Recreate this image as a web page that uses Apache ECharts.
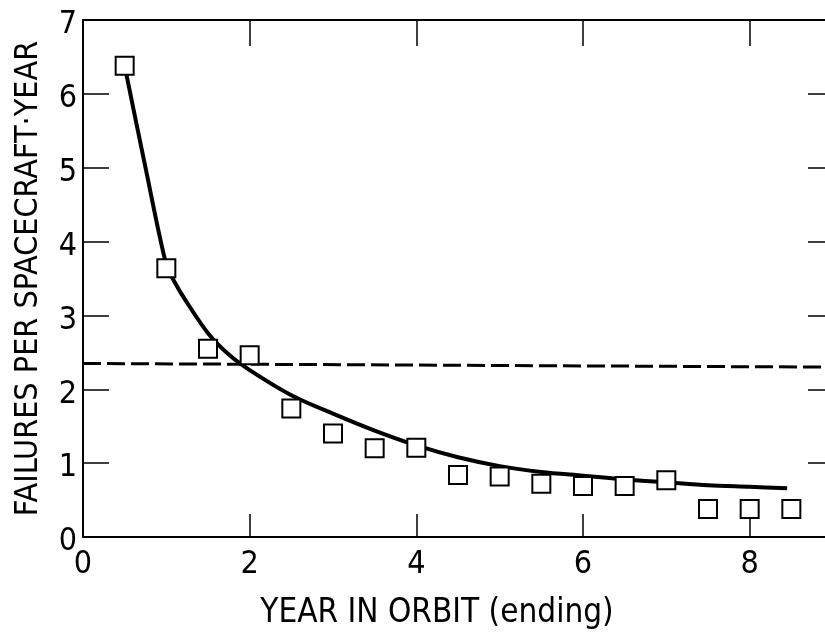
<!DOCTYPE html>
<html>
<head>
<meta charset="utf-8">
<script src="https://cdn.jsdelivr.net/npm/echarts@6/dist/echarts.min.js"></script>
<style>
html,body{margin:0;padding:0;background:#fff;}
#c{width:825px;height:637px;}
</style>
</head>
<body>
<div id="c"></div>
<script>
var yearsObserved = [0.5, 1.0, 1.5, 2.0, 2.5, 3.0, 3.5, 4.0, 4.5, 5.0, 5.5, 6.0, 6.5, 7.0, 7.5, 8.0, 8.5];
var failuresObserved = [6.38, 3.64, 2.55, 2.46, 1.74, 1.40, 1.20, 1.21, 0.84, 0.82, 0.72, 0.69, 0.69, 0.77, 0.38, 0.38, 0.38];

var fitYears = [0.5, 0.75, 1.0, 1.1, 1.25, 1.5, 1.75, 2.0, 2.5, 3.0, 3.5, 4.0, 4.5, 5.0, 5.5, 6.0, 6.5, 7.0, 7.5, 8.0, 8.45];
var fitFailures = [6.38, 5.0, 3.68, 3.45, 3.17, 2.76, 2.47, 2.26, 1.92, 1.67, 1.44, 1.24, 1.08, 0.96, 0.88, 0.83, 0.78, 0.74, 0.70, 0.68, 0.66];

var refYears = [0, 9];
var refFailures = [2.35, 2.30];

var xTicks = [0, 2, 4, 6, 8];
var yTicks = [0, 1, 2, 3, 4, 5, 6, 7];

function pairs(xs, ys) { return xs.map(function (x, i) { return [x, ys[i]]; }); }

// pick a condensed face if one is installed
function pickFont() {
  var c = document.createElement('canvas').getContext('2d');
  var s = 'FAILURES PER SPACECRAFT 0123456789';
  c.font = '40px monospace'; var mono = c.measureText(s).width;
  var cands = ['Liberation Sans Narrow', 'DejaVu Sans Condensed', 'Roboto Condensed', 'Open Sans Condensed', 'Noto Sans Condensed'];
  for (var i = 0; i < cands.length; i++) {
    c.font = '40px "' + cands[i] + '", monospace';
    if (Math.abs(c.measureText(s).width - mono) > 1) return {family: '"' + cands[i] + '", sans-serif', style: 'normal'};
  }
  c.font = '40px "DejaVu Sans"'; var w1 = c.measureText(s).width;
  c.font = 'condensed 40px "DejaVu Sans"'; var w2 = c.measureText(s).width;
  if (w2 < w1 - 1) return {family: '"DejaVu Sans", sans-serif', style: 'condensed'};
  return {family: '"DejaVu Sans", sans-serif', style: 'normal'};
}
var F = pickFont();
var BLACK = '#000';
function ts(size) { return {fontFamily: F.family, fontStyle: F.style, fontSize: size, color: BLACK}; }

var chart = echarts.init(document.getElementById('c'), null, {renderer: 'canvas'});
chart.setOption({
  animation: false,
  backgroundColor: '#fff',
  grid: {left: 83, top: 20, right: -8, bottom: 100, containLabel: false, outerBoundsMode: 'none'},
  xAxis: [{
    type: 'value', min: 0, max: 9, interval: 2, position: 'bottom',
    name: 'YEAR IN ORBIT (ending)', nameLocation: 'middle', nameGap: 60,
    nameTextStyle: Object.assign(ts(33), {padding: [0, 42, 0, 0]}),
    axisLine: {show: true, lineStyle: {color: BLACK, width: 2}},
    axisTick: {show: true, inside: true, length: 23, lineStyle: {color: BLACK, width: 1.5}},
    axisLabel: Object.assign(ts(32), {margin: 12, showMaxLabel: false,
      formatter: function (v) { return xTicks.indexOf(v) >= 0 ? String(v) : ''; }}),
    splitLine: {show: false}
  }, {
    type: 'value', min: 0, max: 9, interval: 2, position: 'top',
    axisLine: {show: true, onZero: false, lineStyle: {color: BLACK, width: 2}},
    axisTick: {show: true, inside: true, length: 26, lineStyle: {color: BLACK, width: 1.5}},
    axisLabel: {show: false}, splitLine: {show: false}
  }],
  yAxis: [{
    type: 'value', min: 0, max: 7, interval: 1, position: 'left',
    name: 'FAILURES PER SPACECRAFT·YEAR', nameLocation: 'middle', nameGap: 38,
    nameTextStyle: ts(32),
    axisLine: {show: true, lineStyle: {color: BLACK, width: 2}},
    axisTick: {show: true, inside: true, length: 26, lineStyle: {color: BLACK, width: 1.5}},
    axisLabel: Object.assign(ts(32), {margin: 6,
      rich: {d: Object.assign(ts(32), {padding: [10, 0, 0, 0]})},
      formatter: function (v) { return yTicks.indexOf(v) >= 0 ? '{d|' + v + '}' : ''; }}),
    splitLine: {show: false}
  }, {
    type: 'value', min: 0, max: 7, interval: 1, position: 'right',
    axisLine: {show: true, onZero: false, lineStyle: {color: BLACK, width: 2}},
    axisTick: {show: true, inside: true, length: 25, lineStyle: {color: BLACK, width: 1.5}},
    axisLabel: {show: false}, splitLine: {show: false}
  }],
  series: [{
    type: 'line', data: pairs(refYears, refFailures), showSymbol: false, symbol: 'none',
    lineStyle: {color: BLACK, width: 3, type: [18, 6]}, z: 2, silent: true
  }, {
    type: 'line', data: pairs(fitYears, fitFailures), showSymbol: false, symbol: 'none',
    smooth: 0.3, lineStyle: {color: BLACK, width: 4}, z: 3, silent: true
  }, {
    type: 'scatter', data: pairs(yearsObserved, failuresObserved), symbol: 'rect', symbolSize: 18,
    itemStyle: {color: '#fff', borderColor: BLACK, borderWidth: 2, opacity: 1}, z: 5
  }]
});
</script>
</body>
</html>
